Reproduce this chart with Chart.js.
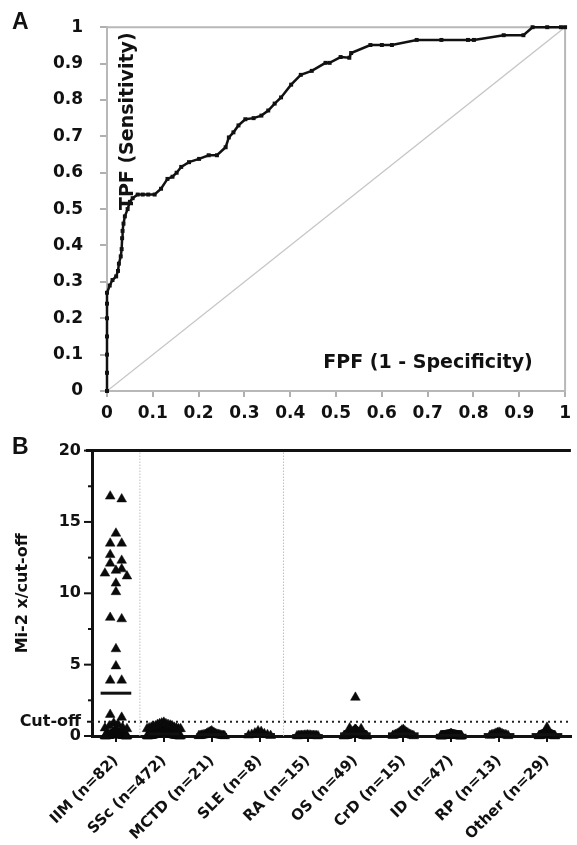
<!DOCTYPE html>
<html>
<head>
<meta charset="utf-8">
<script src="https://cdn.jsdelivr.net/npm/chart.js@4.4.0/dist/chart.umd.min.js"></script>
<style>
html, body { margin: 0; padding: 0; background: #fff; }
#wrapA { position: absolute; left: 0; top: 0; width: 577px; height: 430px; }
#wrapB { position: absolute; left: 0; top: 430px; width: 577px; height: 415px; }
</style>
</head>
<body>
<div id="wrapA"><canvas id="rocChart"></canvas></div>
<div id="wrapB"><canvas id="dotChart"></canvas></div>
<script>
// ---- Panel A: ROC curve ----
const fpr = [0, 0, 0, 0, 0, 0, 0, 0.006, 0.012, 0.02, 0.024, 0.026, 0.03, 0.032, 0.033, 0.034, 0.036, 0.039,
  0.045, 0.05, 0.056, 0.067, 0.078, 0.09, 0.104, 0.118, 0.132, 0.143, 0.152, 0.162, 0.179, 0.201, 0.222,
  0.24, 0.259, 0.266, 0.276, 0.287, 0.302, 0.32, 0.337, 0.352, 0.366, 0.38, 0.402, 0.423, 0.447, 0.477,
  0.486, 0.51, 0.529, 0.533, 0.575, 0.6, 0.622, 0.676, 0.73, 0.788, 0.801, 0.866, 0.909, 0.929, 0.961, 0.991, 1];
const tpr = [0, 0.05, 0.1, 0.15, 0.2, 0.24, 0.27, 0.29, 0.305, 0.315, 0.33, 0.35, 0.37, 0.39, 0.42, 0.44, 0.46, 0.48,
  0.5, 0.52, 0.53, 0.54, 0.54, 0.54, 0.54, 0.556, 0.583, 0.589, 0.6, 0.616, 0.629, 0.638, 0.648,
  0.648, 0.67, 0.697, 0.711, 0.73, 0.747, 0.75, 0.757, 0.771, 0.79, 0.807, 0.842, 0.869, 0.88, 0.902,
  0.902, 0.918, 0.916, 0.929, 0.951, 0.951, 0.951, 0.965, 0.965, 0.965, 0.965, 0.978, 0.978, 1, 1, 1, 1];
const diagX = [0, 1];
const diagY = [0, 1];
const rocTicks = [0, 0.1, 0.2, 0.3, 0.4, 0.5, 0.6, 0.7, 0.8, 0.9, 1];

// ---- Panel B: Mi-2 x / cut-off per diagnosis ----
const groups = ['IIM (n=82)', 'SSc (n=472)', 'MCTD (n=21)', 'SLE (n=8)', 'RA (n=15)',
  'OS (n=49)', 'CrD (n=15)', 'ID (n=47)', 'RP (n=13)', 'Other (n=29)'];
const iim = [16.8, 16.6, 14.2, 13.5, 13.5, 12.7, 12.3, 12.1, 11.7, 11.6, 11.4, 11.2, 10.7, 10.1, 8.3, 8.2,
  6.1, 4.9, 3.9, 3.9, 1.5, 1.3, 0.9, 0.8, 0.7, 0.6, 0.55, 0.5, 0.45, 0.4, 0.4, 0.35, 0.3, 0.3, 0.3, 0.25,
  0.25, 0.2, 0.2, 0.2, 0.2, 0.15, 0.15, 0.15, 0.15, 0.1, 0.1, 0.1, 0.1, 0.1, 0.1, 0.08, 0.08, 0.07, 0.06,
  0.06, 0.05, 0.05, 0.05, 0.05, 0.04, 0.04, 0.04, 0.03, 0.03, 0.03, 0.03, 0.02, 0.02, 0.02, 0.02, 0.02,
  0.01, 0.01, 0.01, 0.01, 0.01, 0, 0, 0, 0, 0];
const ssc = [0.95, 0.9, 0.85, 0.85, 0.8, 0.8, 0.75, 0.7, 0.7, 0.65, 0.6, 0.6, 0.55, 0.55, 0.5, 0.5, 0.5,
  0.45, 0.45, 0.4, 0.4, 0.4, 0.35, 0.35, 0.35, 0.3, 0.3, 0.3, 0.3, 0.25, 0.25, 0.25, 0.2, 0.2, 0.2, 0.2,
  0.15, 0.15, 0.15, 0.15, 0.1, 0.1, 0.1, 0.1, 0.1, 0.08, 0.08, 0.06, 0.06, 0.05, 0.05, 0.05, 0.04, 0.04,
  0.03, 0.03, 0.03, 0.02, 0.02, 0.02, 0.01, 0.01, 0.01, 0, 0, 0, 0, 0];
const mctd = [0.35, 0.3, 0.25, 0.25, 0.2, 0.2, 0.15, 0.15, 0.12, 0.1, 0.1, 0.08, 0.06, 0.05, 0.05, 0.04,
  0.03, 0.02, 0.02, 0.01, 0];
const sle = [0.35, 0.3, 0.2, 0.15, 0.1, 0.08, 0.05, 0.02];
const ra = [0.06, 0.05, 0.05, 0.04, 0.04, 0.03, 0.03, 0.03, 0.02, 0.02, 0.02, 0.01, 0.01, 0, 0];
const os = [2.7, 0.55, 0.5, 0.45, 0.45, 0.4, 0.4, 0.35, 0.35, 0.3, 0.3, 0.3, 0.25, 0.25, 0.25, 0.2, 0.2,
  0.2, 0.2, 0.15, 0.15, 0.15, 0.15, 0.12, 0.1, 0.1, 0.1, 0.1, 0.08, 0.08, 0.07, 0.06, 0.06, 0.05, 0.05,
  0.04, 0.04, 0.03, 0.03, 0.03, 0.02, 0.02, 0.02, 0.01, 0.01, 0.01, 0, 0, 0];
const crd = [0.45, 0.4, 0.35, 0.3, 0.25, 0.2, 0.2, 0.15, 0.12, 0.1, 0.08, 0.05, 0.03, 0.02, 0];
const idd = [0.15, 0.14, 0.12, 0.12, 0.1, 0.1, 0.1, 0.09, 0.08, 0.08, 0.08, 0.07, 0.07, 0.06, 0.06, 0.06,
  0.05, 0.05, 0.05, 0.05, 0.04, 0.04, 0.04, 0.04, 0.03, 0.03, 0.03, 0.03, 0.03, 0.02, 0.02, 0.02, 0.02,
  0.02, 0.01, 0.01, 0.01, 0.01, 0.01, 0.01, 0, 0, 0, 0, 0, 0, 0];
const rp = [0.25, 0.22, 0.2, 0.18, 0.15, 0.12, 0.1, 0.1, 0.08, 0.06, 0.05, 0.03, 0.01];
const other = [0.6, 0.4, 0.35, 0.3, 0.3, 0.25, 0.25, 0.2, 0.2, 0.18, 0.15, 0.15, 0.12, 0.1, 0.1, 0.1,
  0.08, 0.07, 0.06, 0.05, 0.05, 0.04, 0.03, 0.03, 0.02, 0.02, 0.01, 0, 0];
const medians = [3.0, 0.15, 0.1, 0.1, 0.03, 0.15, 0.15, 0.05, 0.1, 0.1];
const cutoff = 1;
const dividers = [0.5, 3.5];
const yTicksB = [0, 1, 2.5, 5, 7.5, 10, 12.5, 15, 17.5, 20];

const groupValues = [iim, ssc, mctd, sle, ra, os, crd, idd, rp, other];
// how wide each column of triangles spreads (in category units)
const spread = [0.23, 0.35, 0.27, 0.23, 0.22, 0.24, 0.22, 0.22, 0.19, 0.17];

// simple column-scatter layout: values close in height share a row and are spread sideways
function swarm(values, center, half) {
  const sorted = values.slice().sort((a, b) => a - b);
  const pts = [];
  let row = [];
  const flush = () => {
    const k = row.length;
    const step = k > 1 ? Math.min(0.24, 2 * half / (k - 1)) : 0;
    const slots = row.map((_, j) => (j - (k - 1) / 2) * step)
      .sort((a, b) => Math.abs(a) - Math.abs(b) || a - b);
    const byHeight = row.slice().sort((a, b) => b - a);
    byHeight.forEach((v, j) => pts.push({ x: center + slots[j], y: v }));
    row = [];
  };
  sorted.forEach(v => {
    if (row.length && v - row[0] >= 0.5) flush();
    row.push(v);
  });
  flush();
  return pts;
}

const fmtRoc = v => (v === 0 || v === 1) ? String(v) : v.toFixed(1);

// frame lines + in-plot titles for panel A
const rocDecor = {
  id: 'rocDecor',
  beforeDatasetsDraw(chart) {
    const { ctx, chartArea: a } = chart;
    ctx.save();
    ctx.strokeStyle = '#b8b8b8';
    ctx.lineWidth = 2;
    ctx.beginPath();
    ctx.moveTo(a.left, a.top);
    ctx.lineTo(a.right, a.top);
    ctx.lineTo(a.right, a.bottom);
    ctx.stroke();
    ctx.restore();
  },
  afterDraw(chart) {
    const { ctx, chartArea: a } = chart;
    ctx.save();
    ctx.fillStyle = '#111';
    ctx.font = 'bold 19px "DejaVu Sans"';
    ctx.textAlign = 'center';
    ctx.textBaseline = 'middle';
    ctx.fillText('FPF (1 - Specificity)', a.left + 321, a.bottom - 28);
    ctx.translate(a.left + 21, a.top + 94);
    ctx.rotate(-Math.PI / 2);
    ctx.fillText('TPF (Sensitivity)', 0, 0);
    ctx.restore();
    ctx.save();
    ctx.fillStyle = '#111';
    ctx.font = 'bold 23px "Liberation Sans"';
    ctx.textAlign = 'left';
    ctx.textBaseline = 'alphabetic';
    ctx.fillText('A', 12, 29);
    ctx.restore();
  }
};

new Chart(document.getElementById('rocChart'), {
  type: 'scatter',
  data: {
    datasets: [{
      data: fpr.map((x, i) => ({ x: x, y: tpr[i] })),
      showLine: true,
      borderColor: '#111',
      borderWidth: 2.5,
      pointStyle: 'rect',
      pointRadius: 2.8,
      pointBackgroundColor: '#111',
      pointBorderWidth: 0,
      clip: false,
      order: 0
    }, {
      data: diagX.map((x, i) => ({ x: x, y: diagY[i] })),
      showLine: true,
      borderColor: '#c6c6c6',
      borderWidth: 1.3,
      pointRadius: 0,
      order: 1
    }]
  },
  options: {
    animation: false,
    responsive: true,
    maintainAspectRatio: false,
    layout: { padding: { left: 0, top: 23, right: 7, bottom: 0 } },
    plugins: { legend: { display: false }, tooltip: { enabled: false } },
    scales: {
      x: {
        type: 'linear', min: 0, max: 1,
        afterBuildTicks: s => { s.ticks = rocTicks.map(v => ({ value: v })); },
        afterFit: s => { s.height = 39; },
        grid: { drawOnChartArea: false, color: '#b0b0b0', lineWidth: 2, tickLength: 6 },
        border: { color: '#b8b8b8', width: 2 },
        ticks: {
          color: '#111', padding: 6, maxRotation: 0,
          font: { family: 'DejaVu Sans', weight: 'bold', size: 17 },
          callback: v => fmtRoc(v)
        }
      },
      y: {
        type: 'linear', min: 0, max: 1,
        afterBuildTicks: s => { s.ticks = rocTicks.map(v => ({ value: v })); },
        afterFit: s => { s.width = 107; },
        grid: { drawOnChartArea: false, color: '#b0b0b0', lineWidth: 2, tickLength: 7 },
        border: { color: '#b8b8b8', width: 2 },
        ticks: {
          color: '#111', padding: 17,
          font: { family: 'DejaVu Sans', weight: 'bold', size: 17 },
          callback: v => fmtRoc(v)
        }
      }
    }
  },
  plugins: [rocDecor]
});

// top line, y ticks, y title and panel letter for panel B
const dotDecor = {
  id: 'dotDecor',
  afterDraw(chart) {
    const { ctx, chartArea: a } = chart;
    const ys = chart.scales.y;
    ctx.save();
    ctx.strokeStyle = '#111';
    ctx.lineWidth = 3;
    ctx.beginPath();
    ctx.moveTo(a.left - 6, a.top);
    ctx.lineTo(a.right, a.top);
    ctx.stroke();
    ctx.lineWidth = 2;
    yTicksB.forEach(v => {
      const len = v % 5 === 0 ? 8 : (v === cutoff ? 5 : 4);
      const py = ys.getPixelForValue(v);
      ctx.beginPath();
      ctx.moveTo(a.left - len, py);
      ctx.lineTo(a.left, py);
      ctx.stroke();
    });
    ctx.fillStyle = '#111';
    ctx.font = 'bold 16px "DejaVu Sans"';
    ctx.textAlign = 'center';
    ctx.textBaseline = 'middle';
    ctx.translate(23, (a.top + a.bottom) / 2);
    ctx.rotate(-Math.PI / 2);
    ctx.fillText('Mi-2 x/cut-off', 0, 0);
    ctx.restore();
    ctx.save();
    ctx.fillStyle = '#111';
    ctx.font = 'bold 23px "Liberation Sans"';
    ctx.textAlign = 'left';
    ctx.textBaseline = 'alphabetic';
    ctx.fillText('B', 12, 24);
    ctx.restore();
  }
};

const dotDatasets = [];
dividers.forEach(d => dotDatasets.push({
  data: [{ x: d, y: 0 }, { x: d, y: 20 }],
  showLine: true, borderColor: '#bdbdbd', borderWidth: 1, borderDash: [1.5, 1.5],
  pointRadius: 0, order: 5
}));
dotDatasets.push({
  data: [{ x: -0.5, y: cutoff }, { x: 9.5, y: cutoff }],
  showLine: true, borderColor: '#222', borderWidth: 2, borderDash: [2, 4],
  pointRadius: 0, order: 4
});
dotDatasets.push({
  data: groupValues.flatMap((vals, i) => swarm(vals, i, spread[i])),
  pointStyle: 'triangle', pointRadius: 5.6,
  pointBackgroundColor: '#0a0a0a', pointBorderColor: '#0a0a0a', pointBorderWidth: 0.5,
  clip: false, order: 2
});
medians.forEach((m, i) => dotDatasets.push({
  data: [{ x: i - 0.32, y: m }, { x: i + 0.32, y: m }],
  showLine: true, borderColor: '#111', borderWidth: 3, pointRadius: 0, clip: false, order: 1
}));

new Chart(document.getElementById('dotChart'), {
  type: 'scatter',
  data: { datasets: dotDatasets },
  options: {
    animation: false,
    responsive: true,
    maintainAspectRatio: false,
    layout: { padding: { left: 0, top: 18, right: 0, bottom: 0 } },
    plugins: { legend: { display: false }, tooltip: { enabled: false } },
    scales: {
      x: {
        type: 'linear', min: -0.5, max: 9.5,
        afterBuildTicks: s => { s.ticks = groups.map((g, i) => ({ value: i })); },
        afterFit: s => { s.height = 109; },
        grid: { drawOnChartArea: false, color: '#111', lineWidth: 2, tickLength: 6 },
        border: { color: '#111', width: 3 },
        ticks: {
          color: '#111', padding: 10, autoSkip: false, minRotation: 45, maxRotation: 45,
          font: { family: 'DejaVu Sans', weight: 'bold', size: 15 },
          callback: v => groups[v]
        }
      },
      y: {
        type: 'linear', min: 0, max: 20,
        afterBuildTicks: s => { s.ticks = yTicksB.map(v => ({ value: v })); },
        afterFit: s => { s.width = 92; },
        grid: { drawOnChartArea: false, drawTicks: false },
        border: { color: '#111', width: 3 },
        ticks: {
          color: '#111', padding: 11,
          font: { family: 'DejaVu Sans', weight: 'bold', size: 16 },
          callback: v => v === cutoff ? 'Cut-off' : (v % 5 === 0 ? String(v) : '')
        }
      }
    }
  },
  plugins: [dotDecor]
});
</script>
</body>
</html>
